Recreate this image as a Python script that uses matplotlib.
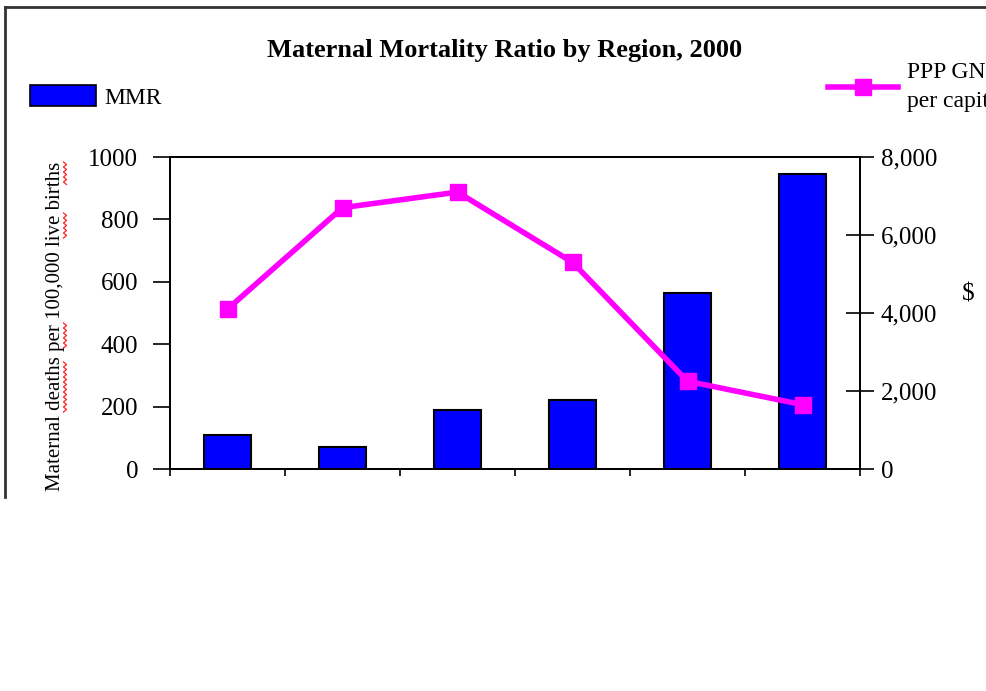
import matplotlib
matplotlib.use("Agg")
import matplotlib.pyplot as plt
from matplotlib.lines import Line2D
from matplotlib.patches import Patch
import numpy as np

plt.rcParams['font.family'] = ['Liberation Serif', 'DejaVu Serif']

# Data (region labels are not legible in the reference)
regions = ["Region 1", "Region 2", "Region 3", "Region 4", "Region 5", "Region 6"]
mmr = [110, 70, 190, 220, 565, 945]
gni = [4100, 6700, 7100, 5300, 2250, 1650]
left_ticks = [0, 200, 400, 600, 800, 1000]
right_ticks = [0, 2000, 4000, 6000, 8000]
right_tick_labels = ["0", "2,000", "4,000", "6,000", "8,000"]

BLUE = "#0000FF"
MAGENTA = "#FF00FF"

W, H = 986, 691
fig = plt.figure(figsize=(W / 100, H / 100), dpi=100)
fig.patch.set_facecolor("white")

ax = fig.add_axes([170 / W, 1 - 469 / H, 690 / W, 312 / H])
x = np.arange(len(regions))
ax.bar(x, mmr, width=0.41, color=BLUE, edgecolor="black", linewidth=1.5, zorder=2)
ax.set_xlim(-0.5, len(regions) - 0.5)
ax.set_ylim(0, 1000)
ax.set_yticks(left_ticks)
ax.set_yticklabels([str(t) for t in left_ticks])
ax.set_xticks(np.arange(len(regions) + 1) - 0.5)
ax.set_xticklabels([])
ax.tick_params(axis="x", direction="out", length=5, width=1.2)
ax.tick_params(axis="y", direction="out", length=12, width=1.2, labelsize=18, pad=11)
for s in ax.spines.values():
    s.set_linewidth(1.3)

ax2 = ax.twinx()
ax2.plot(x, gni, color=MAGENTA, linewidth=4, marker="s", markersize=11,
         markerfacecolor=MAGENTA, markeredgecolor=MAGENTA, zorder=3)
ax2.set_ylim(0, 8000)
ax2.set_yticks(right_ticks)
ax2.set_yticklabels(right_tick_labels)
ax2.tick_params(axis="y", direction="inout", length=20, width=1.2, labelsize=18, pad=5)
for s in ax2.spines.values():
    s.set_linewidth(1.3)

ax.set_ylabel("Maternal deaths per 100,000 live births", fontsize=15)
ax.yaxis.set_label_coords(-0.152, 0.458)
ax2.set_ylabel("$", fontsize=18, rotation=0, va="center", ha="center")
ax2.yaxis.set_label_coords(1.157, 0.56)

fig.text(505 / W, 1 - 50 / H, "Maternal Mortality Ratio by Region, 2000",
         ha="center", va="center", fontsize=19, fontweight="bold")

fig.legend(handles=[Patch(facecolor=BLUE, edgecolor="black", linewidth=1.2, label="MMR")],
           loc="center left", bbox_to_anchor=(30 / W, 1 - 97 / H), frameon=False,
           fontsize=17, handlelength=2.8, handleheight=1.0, handletextpad=0.35,
           borderpad=0, borderaxespad=0)
leg2 = fig.legend(handles=[Line2D([], [], color=MAGENTA, linewidth=4, marker="s", markersize=12,
                                  label="PPP GNI\nper capita")],
                  loc="center left", bbox_to_anchor=(828 / W, 1 - 87 / H), frameon=False,
                  fontsize=17, handlelength=2.95, handletextpad=0.4,
                  borderpad=0, borderaxespad=0)
for t in leg2.get_texts():
    t.set_linespacing(1.45)

# outer frame of the chart area
fig.add_artist(Line2D([5 / W, 5 / W], [1 - 7 / H, 1 - 497 / H], color="#333333", linewidth=2,
                      transform=fig.transFigure))
fig.add_artist(Line2D([5 / W, 1.0], [1 - 7 / H, 1 - 7 / H], color="#333333", linewidth=2,
                      transform=fig.transFigure))

# red wavy spell-check underlines beside the rotated axis label (pixel spans)
squiggle_spans = [(162, 185), (213, 240), (323, 350), (362, 413)]
for y0, y1 in squiggle_spans:
    ys = np.arange(y0, y1 + 0.1, 2.5)
    xs = np.where(np.arange(len(ys)) % 2 == 0, 63.5, 66.5)
    fig.add_artist(Line2D(xs / W, 1 - ys / H, color="#FF2020", linewidth=0.9,
                          transform=fig.transFigure))

fig.savefig("out.png", dpi=100, facecolor="white")
